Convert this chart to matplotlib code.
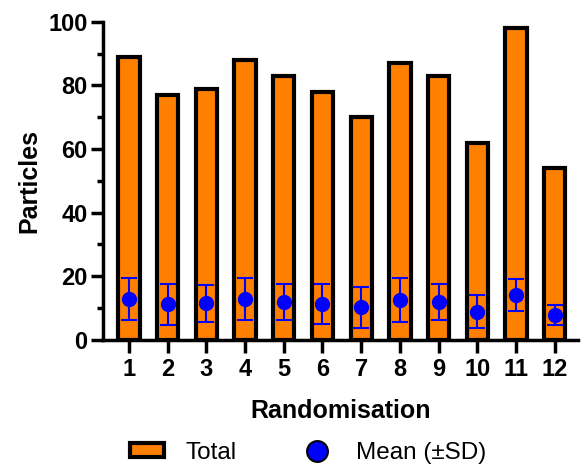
import numpy as np
import matplotlib.pyplot as plt
from matplotlib.patches import Patch
from matplotlib.lines import Line2D

plt.rcParams['font.family'] = ['Liberation Sans', 'DejaVu Sans']

groups = [str(i) for i in range(1, 13)]
totals = [89, 77, 79, 88, 83, 78, 70, 87, 83, 62, 98, 54]
means = [12.9, 11.2, 11.5, 12.8, 12.0, 11.3, 10.2, 12.6, 12.0, 8.9, 14.1, 7.9]
sds = [6.6, 6.4, 5.8, 6.6, 5.6, 6.3, 6.4, 7.0, 5.6, 5.2, 5.0, 3.1]

orange = "#FF8000"
blue = "#0000FF"

fig = plt.figure(figsize=(5.82, 4.65), dpi=100)
ax = fig.add_axes([0.177, 0.269, 0.816, 0.684])

x = np.arange(1, len(groups) + 1)
ax.bar(x, totals, width=0.55, color=orange, edgecolor="black", linewidth=3, zorder=2)
ax.errorbar(x, means, yerr=sds, fmt="o", color=blue, ecolor=blue, markersize=10,
            elinewidth=1.5, capsize=6, capthick=1.5, zorder=3)

ax.set_xlim(0.33, 12.6)
ax.set_ylim(0, 100)
ax.set_xticks(x)
ax.set_xticklabels(groups)
ax.set_yticks(np.arange(0, 101, 20))
ax.set_yticks(np.arange(10, 100, 20), minor=True)

for s in ["top", "right"]:
    ax.spines[s].set_visible(False)
for s in ["left", "bottom"]:
    ax.spines[s].set_linewidth(2.5)

ax.tick_params(axis="y", which="major", length=9, width=2.5, labelsize=17, pad=2)
ax.tick_params(axis="y", which="minor", length=4.5, width=2.5)
ax.tick_params(axis="x", which="major", length=9, width=2.5, labelsize=17, pad=4)
for lab in ax.get_xticklabels() + ax.get_yticklabels():
    lab.set_fontweight("bold")

ax.set_xlabel("Randomisation", fontsize=18, fontweight="bold", labelpad=13)
ax.set_ylabel("Particles", fontsize=18, fontweight="bold", labelpad=5)

handles = [
    Patch(facecolor=orange, edgecolor="black", linewidth=3),
    Line2D([], [], marker="o", linestyle="none", markerfacecolor=blue,
           markeredgecolor="black", markeredgewidth=1.5, markersize=15),
]
fig.legend(handles, ["Total", "Mean (\u00b1SD)"], loc="center", ncol=2,
           bbox_to_anchor=(0.529, 0.026), frameon=False, fontsize=17.5,
           handlelength=1.4, handleheight=0.5, columnspacing=2.6, handletextpad=0.9)

fig.savefig("out.png", dpi=100)
